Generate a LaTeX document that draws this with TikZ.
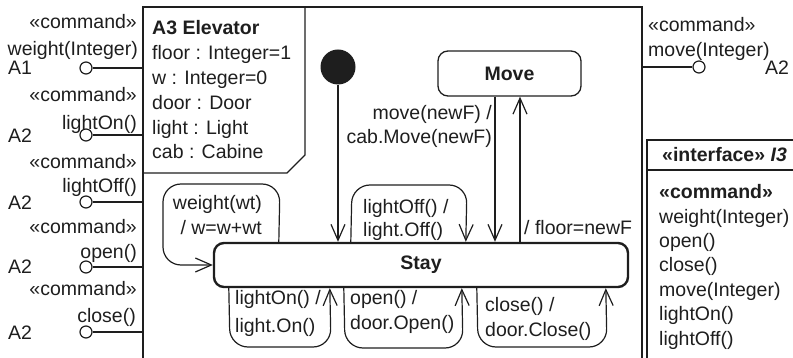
\documentclass[tikz,border=0pt]{standalone}
\usepackage{fontspec}
\setmainfont{Liberation Sans}
\usetikzlibrary{arrows.meta}
\definecolor{ink}{HTML}{1E1E1E}
\begin{document}
\begin{tikzpicture}[x=1pt,y=-1pt,
  txt/.style={font=\fontsize{19.5}{24}\selectfont, inner sep=0pt, text=ink},
  btxt/.style={txt, font=\fontsize{19.5}{24}\selectfont\bfseries},
  frame/.style={draw=ink, line width=1.4pt},
  port/.style={circle, draw=ink, line width=1.2pt, minimum size=12pt, inner sep=0pt, fill=white},
  pline/.style={draw=ink, line width=1.2pt},
  tr/.style={draw=ink, line width=1.2pt, -{Straight Barb[length=16pt,width=14pt,line width=1.2pt]}},
  loopy/.style={tr, rounded corners=18pt},
  movebox/.style={draw=ink, line width=1.3pt, rounded corners=10pt, minimum width=143pt, minimum height=45pt, inner sep=0pt},
  staybox/.style={draw=ink, line width=2.4pt, rounded corners=10pt, minimum width=414pt, minimum height=44pt, inner sep=0pt},
  init/.style={circle, fill=ink, minimum size=35pt, inner sep=0pt}
]
\useasboundingbox (0,0) rectangle (793,358);
\clip (0,0) rectangle (793,358);

% frame of the component
\draw[frame] (143,375) -- (143,7) -- (642,7) -- (642,375);
\draw[frame] (305,7) -- (305,155) -- (287,173) -- (143,173);

% name tab
\node[btxt, anchor=base west] (tname) at (152,35) {A3 Elevator};
\node[txt, anchor=base west] (t1) at (152,59.8) {floor : Integer=1};
\node[txt, anchor=base west] (t2) at (152,84.6) {w : Integer=0};
\node[txt, anchor=base west] (t3) at (152,109.4) {door : Door};
\node[txt, anchor=base west] (t4) at (152,134.2) {light : Light};
\node[txt, anchor=base west] (t5) at (152,159) {cab : Cabine};

% left ports
\node[port] (p1) at (86,68) {};
\node[port] (p2) at (86,135) {};
\node[port] (p3) at (86,202) {};
\node[port] (p4) at (86,267) {};
\node[port] (p5) at (86,332) {};
\coordinate (f1) at (143,68);
\coordinate (f2) at (143,135);
\coordinate (f3) at (143,202);
\coordinate (f4) at (143,267);
\coordinate (f5) at (143,332);
\foreach \i in {1,...,5} {\draw[pline] (p\i) -- (f\i);}

\node[txt, anchor=base east] (c1) at (137,29) {«command»};
\node[txt, anchor=base east] (n1) at (138,55.5) {weight(Integer)};
\node[txt, anchor=base west] (a1) at (8,74.5) {A1};
\node[txt, anchor=base east] (c2) at (137,102) {«command»};
\node[txt, anchor=base east] (n2) at (137,130) {lightOn()};
\node[txt, anchor=base west] (a2) at (8,143) {A2};
\node[txt, anchor=base east] (c3) at (137,169) {«command»};
\node[txt, anchor=base east] (n3) at (137,193) {lightOff()};
\node[txt, anchor=base west] (a3) at (8,210) {A2};
\node[txt, anchor=base east] (c4) at (137,234) {«command»};
\node[txt, anchor=base east] (n4) at (137,259) {open()};
\node[txt, anchor=base west] (a4) at (8,274) {A2};
\node[txt, anchor=base east] (c5) at (137,296) {«command»};
\node[txt, anchor=base east] (n5) at (136,323) {close()};
\node[txt, anchor=base west] (a5) at (8,339) {A2};

% right port
\node[port] (pr) at (699,67) {};
\coordinate (fr) at (642,67);
\draw[pline] (fr) -- (pr);
\node[txt, anchor=base west] (cr) at (648,32) {«command»};
\node[txt, anchor=base west] (nr) at (648,57) {move(Integer)};
\node[txt, anchor=base west] (ar) at (765,75) {A2};

% interface box
\draw[frame] (647,375) -- (647,140) -- (800,140);
\draw[frame] (647,170) -- (800,170);
\node[btxt, anchor=base west] (ift) at (662,162) {«interface» \textit{I3}};
\node[btxt, anchor=base west] (i0) at (659,199) {«command»};
\node[txt, anchor=base west] (i1) at (659,223.3) {weight(Integer)};
\node[txt, anchor=base west] (i2) at (659,247.6) {open()};
\node[txt, anchor=base west] (i3) at (659,272) {close()};
\node[txt, anchor=base west] (i4) at (659,296.2) {move(Integer)};
\node[txt, anchor=base west] (i5) at (659,320.5) {lightOn()};
\node[txt, anchor=base west] (i6) at (659,345) {lightOff()};

% states
\node[init] (start) at (338,67) {};
\node[movebox] (move) at (509.5,73.5) {};
\node[btxt] (movet) at (move.center) {Move};
\node[staybox] (stay) at (421,265) {};
\node[btxt] (stayt) at (stay.center) {Stay};

% transitions
\draw[tr] (start) -- (start |- stay.north);
\draw[tr] ([xshift=-14.5pt]move.south) -- ([xshift=-14.5pt]move.south |- stay.north);
\draw[tr] ([xshift=10.5pt]move.south |- stay.north) -- ([xshift=10.5pt]move.south);
\node[txt, anchor=base east] (m1) at (492,120) {move(newF) /};
\node[txt, anchor=base east] (m2) at (492,144) {cab.Move(newF)};
\node[txt, anchor=base west] (m3) at (524,235) {/ floor=newF};

% self loops
\draw[loopy] ([xshift=66pt]stay.north west) -- (280,184) -- (163,184) -- (163,265) -- (stay.west);
\node[txt, anchor=base east] (w1) at (262,210) {weight(wt)};
\node[txt, anchor=base east] (w2) at (262,235) {/ w=w+wt};

\draw[loopy] ([xshift=138pt]stay.north west) -- (352,185) -- (467,185) -- ([xshift=253pt]stay.north west);
\node[txt, anchor=base west] (lo1) at (363,214) {lightOff() /};
\node[txt, anchor=base west] (lo2) at (363,237) {light.Off()};

\draw[loopy] ([xshift=16pt]stay.south west) -- (230,347) -- (331,347) -- ([xshift=117pt]stay.south west);
\node[txt, anchor=base west] (ln1) at (235,305) {lightOn() /};
\node[txt, anchor=base west] (ln2) at (235,332) {light.On()};

\draw[loopy] ([xshift=131pt]stay.south west) -- (345,348) -- (463,348) -- ([xshift=249pt]stay.south west);
\node[txt, anchor=base west] (op1) at (350,305) {open() /};
\node[txt, anchor=base west] (op2) at (350,330) {door.Open()};

\draw[loopy] ([xshift=264pt]stay.south west) -- (478,347) -- (607,347) -- ([xshift=393pt]stay.south west);
\node[txt, anchor=base west] (cl1) at (485,312) {close() /};
\node[txt, anchor=base west] (cl2) at (485,337) {door.Close()};
\end{tikzpicture}
\end{document}
